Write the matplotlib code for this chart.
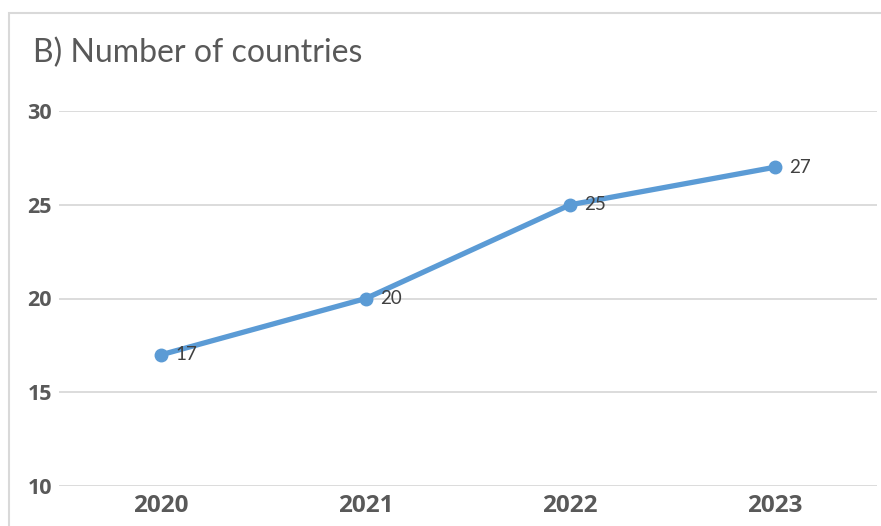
import matplotlib.pyplot as plt
from matplotlib.patches import Rectangle

plt.rcParams['font.family'] = ['Lato', 'DejaVu Sans']

years = ['2020', '2021', '2022', '2023']
countries = [17, 20, 25, 27]
y_ticks = [10, 15, 20, 25, 30]

fig = plt.figure(figsize=(8.81, 5.26), dpi=100)
# chart border (cropped at the right and bottom)
fig.patches.append(Rectangle((9 / 881, -0.1), 1.2, 1 - 13 / 526 + 0.1,
                             transform=fig.transFigure, fill=False,
                             edgecolor='#D9D9D9', linewidth=1.5))

ax = fig.add_axes([59 / 881, 40 / 526, 818 / 881, 375 / 526])
x = range(len(years))
ax.plot(x, countries, color='#5B9BD5', linewidth=3.8, marker='o',
        markersize=9, solid_capstyle='round')
for a, b in zip(x, countries):
    ax.annotate(str(b), (a, b), xytext=(10, 0), textcoords='offset points',
                ha='left', va='center', fontsize=13.5, color='#404040')

ax.set_xlim(-0.5, 3.5)
ax.set_ylim(10, 30)
ax.set_yticks(y_ticks)
ax.set_xticks(list(x))
ax.set_xticklabels(years, fontsize=17.5, fontweight='bold', color='#595959',
                   family='Open Sans')
ax.set_yticklabels([str(t) for t in y_ticks], fontsize=15.5,
                   fontweight='bold', color='#595959', family='Open Sans')
ax.tick_params(length=0)
ax.tick_params(axis='y', pad=5)
ax.tick_params(axis='x', pad=6)
ax.grid(axis='y', color='#D9D9D9', linewidth=1.3)
ax.set_axisbelow(True)
for s in ax.spines.values():
    s.set_visible(False)

fig.text(33 / 881, 1 - 53 / 526, 'B) Number of countries', fontsize=23,
         color='#595959', va='center', ha='left')

fig.savefig('out.png', dpi=100)
